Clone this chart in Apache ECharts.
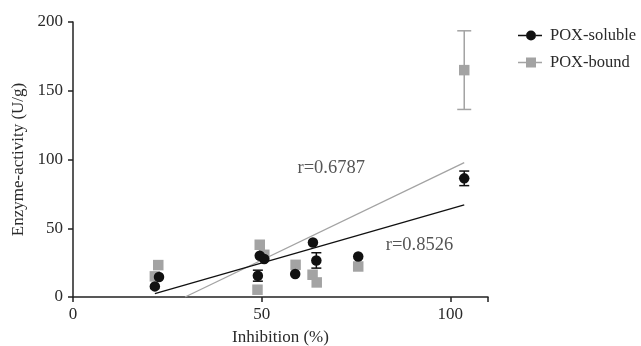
<!DOCTYPE html>
<html><head><meta charset="utf-8">
<script src="https://cdn.jsdelivr.net/npm/echarts@6/dist/echarts.min.js"></script>
<style>html,body{margin:0;padding:0;background:#fff}#c{width:641px;height:346px}</style>
</head><body><div id="c"></div>
<script>
// Data
var solubleX = [21.7, 22.8, 49.0, 49.5, 50.7, 58.9, 63.6, 64.5, 75.6, 103.7];
var solubleY = [7.7, 14.5, 15.5, 30.0, 27.6, 16.7, 39.6, 26.6, 29.5, 86.3];
var solubleErr = [0, 0, 4.0, 0, 0, 0, 0, 5.6, 0, 5.3];
var boundX = [21.7, 22.6, 48.9, 49.5, 50.7, 59.0, 63.5, 64.6, 75.6, 103.7];
var boundY = [15.0, 23.2, 5.3, 38.0, 30.7, 23.4, 16.2, 10.6, 22.2, 165.0];
var boundErr = [0, 0, 0, 0, 0, 0, 0, 0, 0, 28.6];
var fitSoluble = [[21.7, 2.4], [103.7, 67.0]];
var fitBound = [[29.7, 0], [103.7, 97.7]];
var rLabels = [["r=0.6787", 59.5, 93.8], ["r=0.8526", 82.9, 38.0]];
var xTicks = [0, 50, 100];
var yTicks = [0, 50, 100, 150, 200];

var FONT = 'Liberation Serif';
var BLACK = '#111111', GRAY = '#a3a3a3', TEXT = '#2a2a2a';

function pts(xs, ys) { return xs.map(function (x, i) { return [x, ys[i]]; }); }
function errData(xs, ys, es) {
  var out = [];
  xs.forEach(function (x, i) { if (es[i] > 0) out.push([x, ys[i], ys[i] - es[i], ys[i] + es[i]]); });
  return out;
}
function errRender(color, capW) {
  return function (params, api) {
    var top = api.coord([api.value(0), api.value(3)]);
    var bot = api.coord([api.value(0), api.value(2)]);
    var st = { stroke: color, lineWidth: 1.5 };
    return { type: 'group', children: [
      { type: 'line', shape: { x1: top[0], y1: top[1], x2: bot[0], y2: bot[1] }, style: st },
      { type: 'line', shape: { x1: top[0] - capW, y1: top[1], x2: top[0] + capW, y2: top[1] }, style: st },
      { type: 'line', shape: { x1: bot[0] - capW, y1: bot[1], x2: bot[0] + capW, y2: bot[1] }, style: st }
    ]};
  };
}

var circleIcon = 'path://M0,4.3L8,4.3L8,5.7L0,5.7Z M18,4.3L24,4.3L24,5.7L18,5.7Z M13,0A5,5 0 1,1 12.99,0Z';
var squareIcon = 'path://M0,4.3L8,4.3L8,5.7L0,5.7Z M18,4.3L24,4.3L24,5.7L18,5.7Z M8,0L18,0L18,10L8,10Z';

var chart = echarts.init(document.getElementById('c'));
chart.setOption({
  animation: false,
  backgroundColor: '#fff',
  grid: { left: 73, top: 22, right: 153, bottom: 49, containLabel: false, outerBoundsMode: 'none' },
  legend: {
    orient: 'vertical', left: 513, top: 22, itemGap: 10, itemWidth: 24, itemHeight: 10,
    textStyle: { fontFamily: FONT, fontSize: 16.5, color: TEXT, padding: [0, 0, 0, 3] },
    data: [
      { name: 'POX-soluble', icon: circleIcon, itemStyle: { color: BLACK } },
      { name: 'POX-bound', icon: squareIcon, itemStyle: { color: GRAY } }
    ]
  },
  xAxis: {
    type: 'value', min: 0, max: 110, interval: 50,
    name: 'Inhibition (%)', nameLocation: 'middle', nameGap: 32,
    nameTextStyle: { fontFamily: FONT, fontSize: 17, color: TEXT },
    axisLine: { lineStyle: { color: '#222', width: 1.5 } },
    axisTick: { length: 5, lineStyle: { color: '#222', width: 1.5 } },
    axisLabel: { fontFamily: FONT, fontSize: 17, color: TEXT, margin: 9,
      formatter: function (v) { return xTicks.indexOf(v) >= 0 ? String(v) : ''; } },
    splitLine: { show: false }
  },
  yAxis: {
    type: 'value', min: 0, max: 200, interval: 50,
    name: 'Enzyme-activity (U/g)', nameLocation: 'middle', nameGap: 40,
    nameTextStyle: { fontFamily: FONT, fontSize: 17, color: TEXT },
    axisLine: { show: true, lineStyle: { color: '#222', width: 1.5 } },
    axisTick: { show: true, length: 5, lineStyle: { color: '#222', width: 1.5 } },
    axisLabel: { fontFamily: FONT, fontSize: 17, color: TEXT, margin: 10,
      formatter: function (v) { return yTicks.indexOf(v) >= 0 ? String(v) : ''; } },
    splitLine: { show: false }
  },
  series: [
    { name: 'fitBound', type: 'line', data: fitBound, showSymbol: false, symbol: 'none',
      lineStyle: { color: GRAY, width: 1.3 }, z: 1 },
    { name: 'fitSoluble', type: 'line', data: fitSoluble, showSymbol: false, symbol: 'none',
      lineStyle: { color: BLACK, width: 1.3 }, z: 1 },
    { name: 'errBound', type: 'custom', renderItem: errRender(GRAY, 7), data: errData(boundX, boundY, boundErr), z: 2 },
    { name: 'errSoluble', type: 'custom', renderItem: errRender(BLACK, 5), data: errData(solubleX, solubleY, solubleErr), z: 2 },
    { name: 'POX-bound', type: 'scatter', symbol: 'rect', symbolSize: 10.5, data: pts(boundX, boundY),
      itemStyle: { color: GRAY, opacity: 1 }, z: 3 },
    { name: 'POX-soluble', type: 'scatter', symbol: 'circle', symbolSize: 10.5, data: pts(solubleX, solubleY),
      itemStyle: { color: BLACK, opacity: 1 }, z: 4 },
    { name: 'rLabels', type: 'scatter', symbolSize: 0, z: 5,
      data: rLabels.map(function (r) { return { value: [r[1], r[2]], label: { formatter: r[0] } }; }),
      label: { show: true, position: 'right', distance: 0, fontFamily: FONT, fontSize: 18.5, color: TEXT } }
  ]
});
</script>
</body></html>
